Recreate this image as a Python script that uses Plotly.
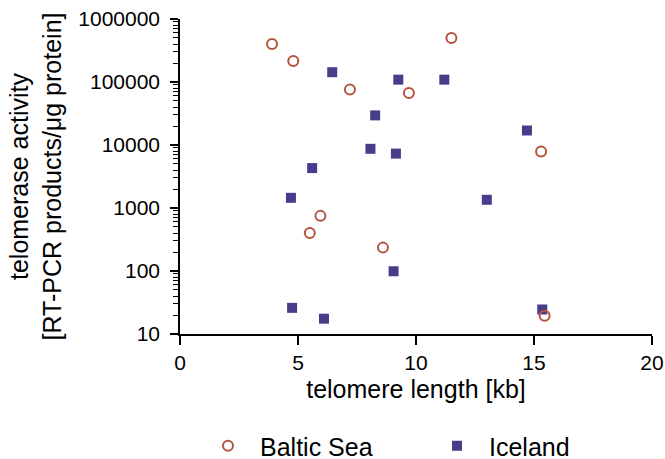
import plotly.graph_objects as go

# Baltic Sea (open circles)
baltic_len = [3.9, 4.8, 7.2, 9.7, 11.5, 15.3, 5.95, 5.5, 8.6, 15.45]
baltic_act = [400000, 215000, 76000, 67000, 500000, 7900, 750, 400, 235, 19.5]

# Iceland (filled squares)
iceland_len = [6.45, 9.25, 11.2, 8.27, 8.07, 9.15, 5.6, 14.7, 4.7, 9.05, 4.75, 6.1, 13.0, 15.35]
iceland_act = [143000, 109000, 109000, 29500, 8700, 7300, 4300, 17000, 1450, 99, 26, 17.5, 1350, 24.5]

y_tickvals = [10, 100, 1000, 10000, 100000, 1000000]
y_ticktext = ["10", "100", "1000", "10000", "100000", "1000000"]
x_tickvals = [0, 5, 10, 15, 20]

FONT = "Liberation Sans, Arial, sans-serif"
RED = "#B5533C"
BLUE = "#463E8A"

fig = go.Figure()
fig.add_trace(go.Scatter(
    x=iceland_len, y=iceland_act, mode="markers", name="Iceland",
    legendrank=2, cliponaxis=False,
    marker=dict(symbol="square", size=10, color=BLUE, line=dict(width=0)),
))
fig.add_trace(go.Scatter(
    x=baltic_len, y=baltic_act, mode="markers", name="Baltic Sea",
    legendrank=1, cliponaxis=False,
    marker=dict(symbol="circle-open", size=10, color=RED, line=dict(width=2, color=RED)),
))

fig.update_layout(
    width=665, height=459,
    margin=dict(l=180, r=13, t=19, b=125),
    paper_bgcolor="white", plot_bgcolor="white",
    font=dict(family=FONT, color="black", size=21),
    showlegend=True,
    legend=dict(
        orientation="h", xref="container", x=196 / 665, xanchor="left",
        yref="container", y=(459 - 446) / 459, yanchor="middle",
        font=dict(size=25, family=FONT), entrywidth=160, itemwidth=54,
        bgcolor="rgba(0,0,0,0)",
    ),
)
fig.update_xaxes(
    range=[0, 20], tickvals=x_tickvals, showgrid=False, zeroline=False,
    showline=True, linecolor="black", linewidth=1.5, automargin=False,
    ticks="outside", ticklen=9, tickwidth=1.5, tickcolor="black",
    tickfont=dict(size=21),
    title=dict(text="telomere length [kb]", font=dict(size=25), standoff=8),
)
fig.update_yaxes(
    type="log", range=[1, 6], tickvals=y_tickvals, ticktext=y_ticktext,
    showgrid=False, zeroline=False, automargin=False,
    showline=True, linecolor="black", linewidth=1.5,
    ticks="outside", ticklen=8, tickwidth=1.5, tickcolor="black",
    ticklabelstandoff=6,
    minor=dict(ticks="outside", ticklen=5, tickwidth=1.2, tickcolor="black",
               dtick="D1", showgrid=False),
    tickfont=dict(size=21),
    title=dict(text="telomerase activity<br>[RT-PCR products/μg protein]",
               font=dict(size=25), standoff=10),
)

fig.write_html("out.html")
